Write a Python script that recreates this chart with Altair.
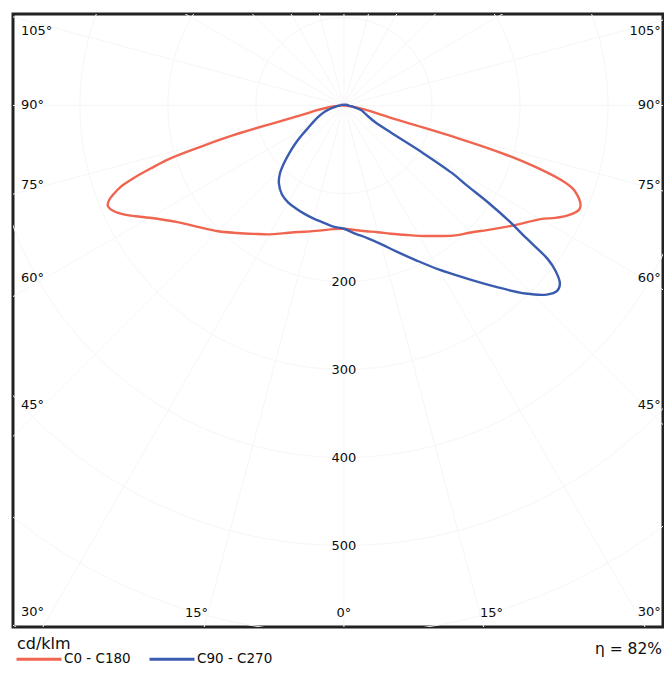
import altair as alt
import numpy as np
import pandas as pd

# ---------------- data ----------------
series_names = ["C0 - C180", "C90 - C270"]
series_colors = ["#f0654f", "#3a5cb0"]

# gamma angle (deg, negative = left half-plane) and intensity (cd/klm)
c0_angles = [-90, -88, -85, -82, -80, -78, -77, -76, -75, -74,
             -73, -72, -71, -70, -69, -68, -67, -66, -64, -62,
             -60, -55, -50, -45, -40, -35, -30, -25, -20, -15,
             -10, -5, 0, 5, 10, 15, 20, 25, 30, 35,
             40, 45, 50, 55, 60, 62, 64, 66, 67, 68,
             69, 70, 71, 72, 73, 73.5, 74, 74.5, 75, 77,
             80, 83, 86, 90]
c0_cd = [0, 3, 10, 22, 32, 44, 56, 80, 130, 168,
         208, 230, 252, 270, 280, 288, 291.5, 290, 281, 268,
         255, 231, 215, 202, 189, 178, 169, 160, 153, 148,
         144, 141, 140, 142, 145, 149, 155, 162, 171, 181,
         193, 204, 219, 237, 258, 272, 284, 292, 292, 289,
         284, 277, 262, 235, 198, 172, 135, 92, 60, 38,
         20, 9, 3, 0]

c90_angles = [-100, -90, -86, -82, -78, -74, -70, -66, -62, -58, -55,
              -52, -49, -46, -43, -40, -35, -30, -25, -20, -15,
              -10, -5, 0, 5, 10, 15, 20, 25, 30, 35,
              40, 44, 47, 49, 50.5, 52, 53, 54, 55, 56,
              57, 58, 59, 60, 62, 66, 70, 75, 80, 85,
              90, 100]
c90_cd = [4, 5, 7, 10, 14, 20, 26, 32, 39, 48, 58,
          70, 82, 95, 107, 115, 123, 127, 129, 131, 133,
          135, 138, 140, 146, 153, 163, 177, 194, 215, 239,
          269, 297, 315, 321, 318, 305, 290, 255, 230, 200,
          166, 145, 105, 62, 40, 30, 25, 20, 13, 8,
          5, 4]

angle_ticks = [105, 90, 75, 60, 45, 30, 15, 0]
radius_ticks = [200, 300, 400, 500]
grid_rings = [100, 200, 300, 400, 500, 600, 700]
grid_rays = list(range(-180, 180, 15))

unit_label = "cd/klm"
efficiency_label = "η = 82%"

# ---------------- geometry / layout constants ----------------
X_DOMAIN = [-376, 362.5]
Y_DOMAIN = [-592.5, 104]
PLOT_W, PLOT_H = 650, 613
FONT = "DejaVu Sans"
TXT = "#0d0d0d"
GRID = "#f6f6f6"

# ---------------- tables ----------------
rows = []
for name, angs, vals in [(series_names[0], c0_angles, c0_cd),
                         (series_names[1], c90_angles, c90_cd)]:
    seq = list(zip(angs, vals)) + [(angs[0], vals[0])]
    for i, (a, v) in enumerate(seq):
        rows.append({"series": name, "angle": a, "cd": v, "order": i})
curves = pd.DataFrame(rows)

ring_rows = []
for r in grid_rings:
    for i, a in enumerate(range(0, 362, 2)):
        ring_rows.append({"ring": r, "angle": a, "cd": r, "order": i})
rings = pd.DataFrame(ring_rows)

rays = pd.DataFrame({"angle": grid_rays})

# angle labels: side labels sit at the frame edges on their ray,
# steep ones (<30 deg) sit along the bottom edge
SIDE_RAY, BOTTOM, TOP = 341.0, 576.7, 83.0
LEFT_X, RIGHT_X = -367.0, 360.0
left_rows, right_rows, bottom_rows = [], [], []
for a in angle_ticks:
    if a == 0:
        bottom_rows.append({"text": "0°", "x": 0.0, "y": -BOTTOM})
    elif a < 30:
        t = np.radians(a + 1.2)
        for s in (-1, 1):
            bottom_rows.append({"text": f"{a}°", "x": s * BOTTOM * np.tan(t), "y": -BOTTOM})
    else:
        y = -SIDE_RAY / np.tan(np.radians(a))
        y = float(min(max(y, -BOTTOM), TOP))
        left_rows.append({"text": f"{a}°", "x": LEFT_X, "y": y})
        right_rows.append({"text": f"{a}°", "x": RIGHT_X, "y": y})

radius_labels = pd.DataFrame({"text": [str(r) for r in radius_ticks],
                              "r": radius_ticks})

xs = alt.Scale(domain=X_DOMAIN, nice=False, zero=False)
ys = alt.Scale(domain=Y_DOMAIN, nice=False, zero=False)

polar = dict(px="datum.cd*sin(datum.angle*PI/180)",
             py="-datum.cd*cos(datum.angle*PI/180)")

ring_layer = alt.Chart(rings).transform_calculate(**polar).mark_line(
    stroke=GRID, strokeWidth=1, clip=True
).encode(
    x=alt.X("px:Q", scale=xs, axis=None),
    y=alt.Y("py:Q", scale=ys, axis=None),
    detail="ring:N",
    order="order:Q",
)

ray_layer = alt.Chart(rays).transform_calculate(
    x0="0", y0="0",
    x1="900*sin(datum.angle*PI/180)", y1="-900*cos(datum.angle*PI/180)"
).mark_rule(stroke=GRID, strokeWidth=1, clip=True).encode(
    x=alt.X("x0:Q", scale=xs, axis=None),
    y=alt.Y("y0:Q", scale=ys, axis=None),
    x2="x1:Q",
    y2="y1:Q",
)

curve_layer = alt.Chart(curves).transform_calculate(**polar).mark_line(
    interpolate="catmull-rom", strokeWidth=2.4
).encode(
    x=alt.X("px:Q", scale=xs, axis=None),
    y=alt.Y("py:Q", scale=ys, axis=None),
    color=alt.Color(
        "series:N",
        scale=alt.Scale(domain=series_names, range=series_colors),
        legend=alt.Legend(
            title=None, orient="none", legendX=2, legendY=621,
            direction="horizontal", symbolType="stroke", symbolSize=2025,
            symbolStrokeWidth=3, labelFont=FONT, labelFontSize=13.5,
            labelColor=TXT, columnPadding=12, labelOffset=1, padding=0,
        ),
    ),
    order="order:Q",
)


def text_layer(df, align, dy=0):
    return alt.Chart(pd.DataFrame(df)).mark_text(
        font=FONT, fontSize=13, color=TXT, align=align, baseline="middle", dy=dy
    ).encode(
        x=alt.X("x:Q", scale=xs, axis=None),
        y=alt.Y("y:Q", scale=ys, axis=None),
        text="text:N",
    )


radius_text = alt.Chart(radius_labels).transform_calculate(
    x0="0", y0="-datum.r"
).mark_text(
    font=FONT, fontSize=13, color=TXT, align="center", baseline="middle"
).encode(
    x=alt.X("x0:Q", scale=xs, axis=None),
    y=alt.Y("y0:Q", scale=ys, axis=None),
    text="text:N",
)

unit_text = alt.Chart(pd.DataFrame({"text": [unit_label]})).mark_text(
    font=FONT, fontSize=16, color=TXT, align="left", baseline="middle"
).encode(
    x=alt.value(4),
    y=alt.value(PLOT_H + 17),
    text="text:N",
)

eta_text = alt.Chart(pd.DataFrame({"text": [efficiency_label]})).mark_text(
    font=FONT, fontSize=15.5, color=TXT, align="right", baseline="middle"
).encode(
    x=alt.value(PLOT_W - 1),
    y=alt.value(PLOT_H + 22),
    text="text:N",
)

chart = alt.layer(
    ring_layer, ray_layer, curve_layer,
    text_layer(left_rows, "left", -1), text_layer(right_rows, "right", -1),
    text_layer(bottom_rows, "center"),
    radius_text, unit_text, eta_text
).properties(
    width=PLOT_W, height=PLOT_H,
    autosize=alt.AutoSizeParams(type="none"),
    padding={"left": 5, "top": 6, "right": 1, "bottom": 41},
    background="white",
).configure_view(stroke="#222", strokeWidth=3)

chart.save("out.html", embed_options={"renderer": "svg", "actions": False})
